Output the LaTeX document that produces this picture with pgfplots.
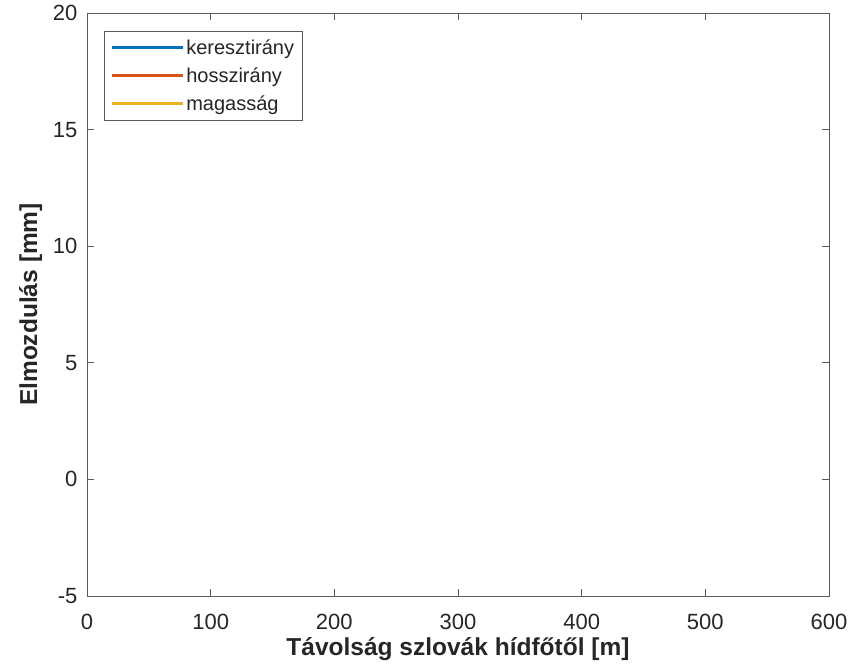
\documentclass[border=0pt]{standalone}
\usepackage{fontspec}
\setmainfont{Liberation Sans}
\usepackage{pgfplots}
\pgfplotsset{compat=1.18}
\definecolor{mblue}{HTML}{0072BD}
\definecolor{mred}{HTML}{D95319}
\definecolor{myellow}{HTML}{EDB120}
\definecolor{axgray}{HTML}{5A5A5A}
\definecolor{txtgray}{HTML}{262626}
\begin{document}
\begin{tikzpicture}
\path[use as bounding box] (-87pt,-73pt) rectangle (767pt,596pt);
\begin{axis}[
  at={(0,0)}, anchor=south west,
  scale only axis,
  width=742pt, height=583pt,
  xmin=0, xmax=600, ymin=-5, ymax=20,
  xtick={0,100,...,600},
  ytick={-5,0,5,10,15,20},
  tick align=inside,
  major tick length=7pt,
  axis line style={axgray, line width=0.9pt},
  tick style={axgray, line width=0.9pt},
  /pgf/number format/assume math mode=true,
  tick label style={font=\fontsize{22}{26}\selectfont, text=txtgray},
  xticklabel style={yshift=-15pt},
  yticklabel style={xshift=-6pt},
  xlabel={\textbf{Távolság szlovák hídfőtől [m]}},
  ylabel={\textbf{Elmozdulás [mm]}},
  label style={font=\fontsize{24.5}{29}\selectfont, text=txtgray},
  xlabel style={yshift=-1pt},
  ylabel style={yshift=4pt},
  legend cell align=left,
  legend style={at={(0,1)}, anchor=north west, xshift=17pt, yshift=-18pt,
    draw=axgray, line width=0.6pt, font=\fontsize{20}{24}\selectfont,
    text=txtgray, inner sep=6pt, row sep=8pt},
  legend image code/.code={\path (0pt,0pt) -- (71pt,0pt);\draw[#1] (0pt,0pt) -- (68pt,0pt);},
]
\addlegendimage{color=mblue, line width=3pt}
\addlegendentry{keresztirány}
\addlegendimage{color=mred, line width=3pt}
\addlegendentry{hosszirány}
\addlegendimage{color=myellow, line width=3pt}
\addlegendentry{magasság}
\end{axis}
\end{tikzpicture}
\end{document}
